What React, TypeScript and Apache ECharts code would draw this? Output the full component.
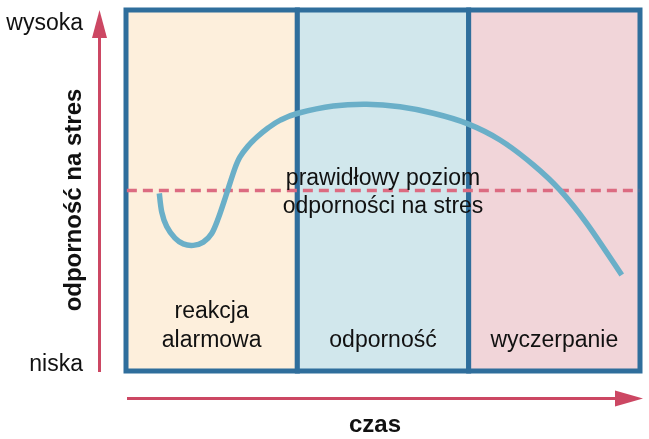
import React, { useEffect, useRef } from "react";
import * as echarts from "echarts";

const phases = ["reakcja\nalarmowa", "odporność", "wyczerpanie"];
const phaseColors = ["#fdefdc", "#d1e7ec", "#f1d5d9"];
const curveX = [0.1944, 0.2084, 0.2376, 0.286, 0.3344, 0.3928, 0.4512, 0.5002, 0.5387, 0.572, 0.5971, 0.6362, 0.6654, 0.7121, 0.7646, 0.8288, 0.9005, 1.0039, 1.21, 1.4049, 1.5993, 1.7936, 1.9885, 2.1829, 2.3773, 2.5331, 2.689, 2.8933];
const curveY = [49.2, 44.1, 40.0, 36.8, 35.2, 34.8, 35.7, 38.1, 42.3, 46.9, 50.6, 56.2, 59.3, 62.3, 64.8, 67.3, 69.5, 71.4, 73.4, 73.9, 73.2, 71.4, 68.6, 64.0, 57.1, 50.1, 40.9, 26.6];
const normalLevel = 50;
const yLabels = ["wysoka", "niska"];
const yTitle = "odporność na stres";
const xTitle = "czas";
const normalText = "prawidłowy poziom\nodporności na stres";

const FONT = "'Liberation Sans', Arial, sans-serif";
const BORDER = "#2f6e9c";
const ARROW = "#cc4763";

export default function App() {
  const ref = useRef<HTMLDivElement>(null);
  useEffect(() => {
    const chart = echarts.init(ref.current!, null, { renderer: "svg" });
    const curveData = curveX.map((x, i) => [x, curveY[i]]);
    chart.setOption({
      animation: false,
      grid: { left: 126, top: 10, width: 514, height: 361 },
      xAxis: { type: "value", min: 0, max: 3, show: false },
      yAxis: { type: "value", min: 0, max: 100, show: false },
      series: [
        {
          type: "line",
          data: [],
          silent: true,
          z: 1,
          markArea: {
            silent: true,
            data: phases.map((p, i) => [
              {
                xAxis: i,
                yAxis: 0,
                itemStyle: { color: phaseColors[i], borderColor: BORDER, borderWidth: 5 },
                label: {
                  show: true,
                  formatter: p,
                  position: "insideBottom",
                  distance: 20,
                  color: "#111",
                  fontFamily: FONT,
                  fontSize: 23,
                  lineHeight: 29,
                  align: "center",
                },
              },
              { xAxis: i + 1, yAxis: 100 },
            ]),
          },
        },
        {
          type: "line",
          data: [[0.005, normalLevel], [2.995, normalLevel]],
          symbol: "none",
          silent: true,
          z: 2,
          lineStyle: { color: "#dc6b81", width: 3.5, type: [10, 6] },
        },
        {
          type: "custom",
          data: curveData,
          silent: true,
          z: 3,
          encode: { x: 0, y: 1 },
          renderItem: (params: any, api: any) => {
            if (params.dataIndex !== 0) return null;
            const pts = curveData.map((d) => api.coord(d));
            const n = pts.length;
            let d = `M${pts[0][0]},${pts[0][1]}`;
            for (let i = 0; i < n - 1; i++) {
              const p0 = pts[Math.max(0, i - 1)];
              const p1 = pts[i];
              const p2 = pts[i + 1];
              const p3 = pts[Math.min(n - 1, i + 2)];
              const c1x = p1[0] + (p2[0] - p0[0]) / 6;
              const c1y = p1[1] + (p2[1] - p0[1]) / 6;
              const c2x = p2[0] - (p3[0] - p1[0]) / 6;
              const c2y = p2[1] - (p3[1] - p1[1]) / 6;
              d += ` C${c1x},${c1y} ${c2x},${c2y} ${p2[0]},${p2[1]}`;
            }
            return {
              type: "path",
              shape: { pathData: d },
              style: { fill: "none", stroke: "#6aafc8", lineWidth: 5.5 },
            };
          },
        },
      ],
      graphic: [
        {
          type: "text",
          x: 383,
          y: 191,
          z: 10,
          style: {
            text: normalText,
            fill: "#111",
            fontSize: 23,
            fontFamily: FONT,
            lineHeight: 28,
            align: "center",
            verticalAlign: "middle",
          },
        },
        {
          type: "text",
          x: 83,
          y: 22,
          style: { text: yLabels[0], fill: "#111", fontSize: 23, fontFamily: FONT, align: "right", verticalAlign: "middle" },
        },
        {
          type: "text",
          x: 83,
          y: 363,
          style: { text: yLabels[1], fill: "#111", fontSize: 23, fontFamily: FONT, align: "right", verticalAlign: "middle" },
        },
        {
          type: "text",
          x: 72,
          y: 200,
          rotation: Math.PI / 2,
          style: { text: yTitle, fill: "#111", fontSize: 24, fontWeight: "bold", fontFamily: FONT, align: "center", verticalAlign: "middle" },
        },
        {
          type: "text",
          x: 375,
          y: 423,
          style: { text: xTitle, fill: "#111", fontSize: 24, fontWeight: "bold", fontFamily: FONT, align: "center", verticalAlign: "middle" },
        },
        {
          type: "line",
          shape: { x1: 99.5, y1: 372, x2: 99.5, y2: 36 },
          style: { stroke: ARROW, lineWidth: 3 },
        },
        {
          type: "polygon",
          shape: { points: [[92, 38], [107, 38], [99.5, 10]] },
          style: { fill: ARROW },
        },
        {
          type: "line",
          shape: { x1: 127, y1: 398.5, x2: 618, y2: 398.5 },
          style: { stroke: ARROW, lineWidth: 3 },
        },
        {
          type: "polygon",
          shape: { points: [[615, 390.5], [615, 406.5], [643, 398.5]] },
          style: { fill: ARROW },
        },
      ],
    });
    return () => chart.dispose();
  }, []);
  return <div ref={ref} style={{ position: "fixed", left: 0, top: 0, width: 649, height: 439 }} />;
}
